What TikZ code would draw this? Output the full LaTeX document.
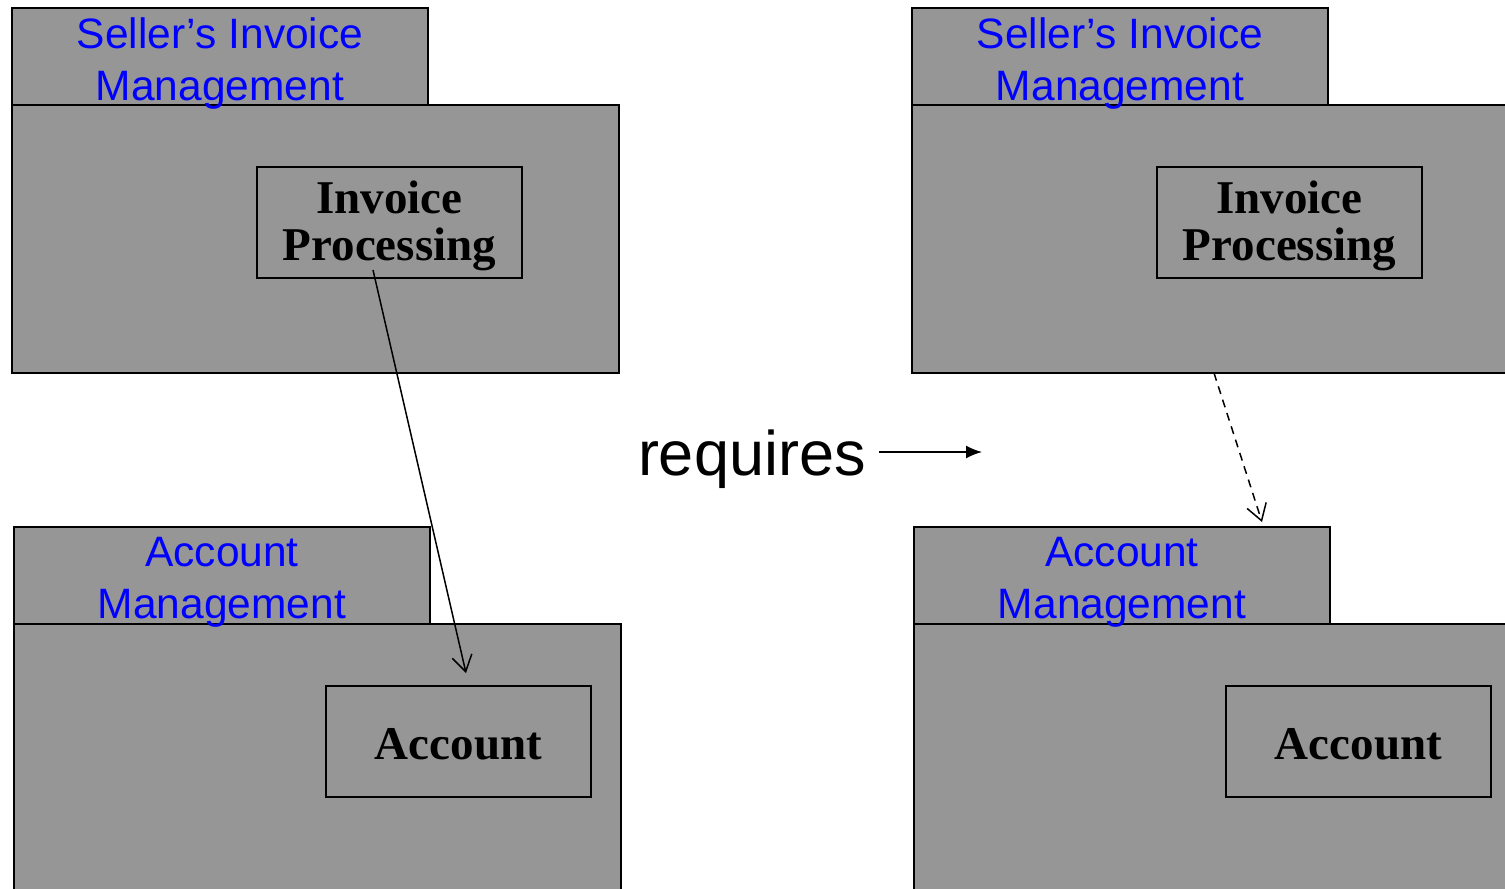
\documentclass[tikz,border=0pt]{standalone}
\usepackage{fontspec}
\setmainfont{Liberation Serif}
\newfontfamily\arialf{Liberation Sans}
\usetikzlibrary{arrows.meta}
\definecolor{pkggray}{RGB}{150,150,150}
\begin{document}
\begin{tikzpicture}[x=0.5pt,y=-0.5pt,
  pkgbox/.style={draw=black, line width=1pt, fill=pkggray, anchor=north west, inner sep=0pt, outer sep=0pt},
  pkgtab/.style={pkgbox, minimum width=208pt, minimum height=48.5pt},
  tablabel/.style={text=blue, align=center, inner sep=0pt, font=\arialf\fontsize{21.25}{26}\selectfont},
  classbox/.style={draw=black, line width=0.9pt, fill=pkggray, anchor=north west, inner sep=0pt, outer sep=0pt,
    minimum width=132.5pt, minimum height=55.5pt},
  classlabel/.style={align=center, inner sep=0pt, font=\bfseries\fontsize{23.5}{23.5}\selectfont},
  dep/.style={line width=0.75pt, -{Straight Barb[length=8pt,width=10pt]}},
]
\useasboundingbox (0,0) rectangle (1505,889);
\clip (0,0) rectangle (1505,889);
% left top package
\node[pkgbox, minimum width=303.5pt, minimum height=134pt] (lsimbody) at (12,105) {};
\node[pkgtab] (lsimtab) at (12,8) {};
\node[tablabel] (lsimlbl) at ([yshift=-3.5pt]lsimtab.center) {Seller’s Invoice\\Management};
\node[classbox] (lip) at (257,167) {};
\node[classlabel] (liplbl) at ([yshift=-1.5pt]lip.center) {Invoice\\Processing};
% left bottom package
\node[pkgbox, minimum width=303.5pt, minimum height=150pt] (lambody) at (14,624) {};
\node[pkgtab] (lamtab) at (14,527) {};
\node[tablabel] (lamlbl) at ([yshift=-3.5pt]lamtab.center) {Account\\Management};
\node[classbox] (lacc) at (326,686) {};
\node[classlabel] (lacclbl) at ([yshift=-1.5pt]lacc.center) {Account};
% right top package
\node[pkgbox, minimum width=320pt, minimum height=134pt] (rsimbody) at (912,105) {};
\node[pkgtab] (rsimtab) at (912,8) {};
\node[tablabel] (rsimlbl) at ([yshift=-3.5pt]rsimtab.center) {Seller’s Invoice\\Management};
\node[classbox] (rip) at (1157,167) {};
\node[classlabel] (riplbl) at ([yshift=-1.5pt]rip.center) {Invoice\\Processing};
% right bottom package
\node[pkgbox, minimum width=320pt, minimum height=150pt] (rambody) at (914,624) {};
\node[pkgtab] (ramtab) at (914,527) {};
\node[tablabel] (ramlbl) at ([yshift=-3.5pt]ramtab.center) {Account\\Management};
\node[classbox] (racc) at (1226,686) {};
\node[classlabel] (racclbl) at ([yshift=-1.5pt]racc.center) {Account};
% connectors
\coordinate (ls) at (373,270);
\coordinate (le) at (466,673);
\draw[dep] (ls) -- (le);
\coordinate (rs) at (1214,373);
\coordinate (re) at (1262,522);
\draw[dep, dashed, dash pattern=on 4pt off 3pt] (rs) -- (re);
% requires
\node[font=\arialf\fontsize{31.5}{36}\selectfont, inner sep=0pt, anchor=base east] (req) at (866,475) {requires};
\coordinate (reqstart) at (879,452);
\coordinate (reqend) at (982,452);
\draw[line width=0.75pt, -{Latex[length=8pt,width=6.5pt]}] (reqstart) -- (reqend);
\end{tikzpicture}
\end{document}
